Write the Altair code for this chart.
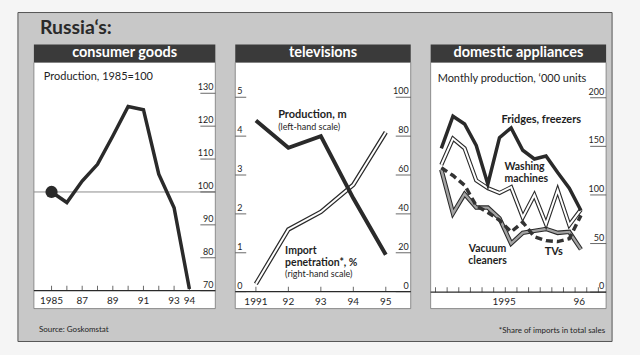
import altair as alt
import pandas as pd

# ---------------- data ----------------
cg_years = [1985, 1986, 1987, 1988, 1989, 1990, 1991, 1992, 1993, 1994]
cg_index = [100, 96.8, 103.3, 108.4, 117, 126, 125, 105.4, 95.2, 70.5]
cg_ylabels = [70, 80, 90, 100, 110, 120, 130]
cg_xlabel_years = [1985, 1987, 1989, 1991, 1993, 1994]
cg_xlabels = ["1985", "87", "89", "91", "93", "94"]

tv_years = [1991, 1992, 1993, 1994, 1995]
tv_production = [4.4, 3.7, 4.0, 2.4, 0.95]
tv_import = [4, 32, 41, 55, 82]
tv_left_labels = [0, 1, 2, 3, 4, 5]
tv_right_labels = [0, 20, 40, 60, 80, 100]
tv_xlabels = ["1991", "92", "93", "94", "95"]

da_month = list(range(13))
da_fridges = [148, 181, 173, 151, 111, 159, 169, 146, 137, 140, 123, 107, 84]
da_washing = [131, 158, 148, 115, 107, 102, 108, 77, 100, 70, 105, 69, 85]
da_vacuum = [126, 81, 101, 87, 87, 76, 50, 61, 63, 65, 61, 62, 44]
da_tvs = [128, 120, 110, 89, 82, 74, 62, 72, 57, 53, 52, 55, 79]
da_ylabels = [0, 50, 100, 150, 200]
da_ticks = [k - 0.5 for k in range(15)]
da_xlabel_pos = [5.4, 11.85]
da_xlabels = ["1995", "96"]

# ---------------- style ----------------
FONT = "Lato"
INK = "#1e1e1e"
LINE = "#2a2a2a"
HEAD = "#3a3a3a"
GRAY = "#c8c8c8"
W1, W2, W3, H = 182, 176, 176, 247

one = pd.DataFrame({"d": [0]})


def X(f, s):
    return alt.X(f, scale=s, axis=None)


def Y(f, s):
    return alt.Y(f, scale=s, axis=None)


def txt(text, x, y, size=11, weight="normal", align="left", color=INK, baseline="middle"):
    return alt.Chart(one).mark_text(
        text=text, fontSize=size, fontWeight=weight, align=align,
        baseline=baseline, font=FONT, color=color
    ).encode(x=alt.value(x), y=alt.value(y))


def rect(x, x2, y, y2, fill, stroke="transparent", sw=0):
    return alt.Chart(one).mark_rect(fill=fill, stroke=stroke, strokeWidth=sw).encode(
        x=alt.value(x), x2=alt.value(x2), y=alt.value(y), y2=alt.value(y2))


def header(text, w):
    return [rect(0, w, -18, 0, HEAD), txt(text, w / 2, -9, 14.5, "bold", "center", "white")]


def ylabels(vals, ys, x1, x2, xt, align):
    df = pd.DataFrame({"v": vals})
    r = alt.Chart(df).mark_rule(color="#444", strokeWidth=0.8).encode(
        y=Y("v:Q", ys), x=alt.value(x1), x2=alt.value(x2))
    t = alt.Chart(df).mark_text(fontSize=9, font=FONT, color=INK, align=align,
                                baseline="bottom", dy=-1).encode(
        y=Y("v:Q", ys), x=alt.value(xt), text="v:Q")
    return [r, t]


def xaxis(base, w, tick_pos, lab_pos, labs, xs, ys):
    b = alt.Chart(pd.DataFrame({"v": [base]})).mark_rule(color=LINE, strokeWidth=1.2).encode(
        y=Y("v:Q", ys), x=alt.value(0), x2=alt.value(w))
    t = alt.Chart(pd.DataFrame({"p": tick_pos, "b": [base] * len(tick_pos)})).mark_tick(
        orient="vertical", size=5, thickness=1, yOffset=-2.5, color=LINE).encode(
        x=X("p:Q", xs), y=Y("b:Q", ys))
    l = alt.Chart(pd.DataFrame({"p": lab_pos, "s": labs, "b": [base] * len(lab_pos)})).mark_text(
        fontSize=10, font=FONT, color=INK, baseline="middle", dy=10).encode(
        x=X("p:Q", xs), y=Y("b:Q", ys), text="s:N")
    return [b, t, l]


# ---------------- panel 1: consumer goods ----------------
xs1 = alt.Scale(domain=[1983.848, 1995.692], nice=False, zero=False)
ys1 = alt.Scale(domain=[64.545, 139.394], nice=False, zero=False)
cg = pd.DataFrame({"year": cg_years, "v": cg_index})

p1_layers = [
    rect(-16, 580, -50, 280, GRAY, "#555", 1),
    rect(0, W1, 0, H, "white", "#777", 0.8),
    *header("consumer goods", W1),
    txt("Russia\u2018s:", 6, -28, 19.5, "bold", "left", "#2a2a2a", "alphabetic"),
    txt("Production, 1985=100", 10, 15, 11),
    alt.Chart(pd.DataFrame({"v": [100]})).mark_rule(color="#8c8c8c", strokeWidth=1).encode(
        y=Y("v:Q", ys1), x=alt.value(0), x2=alt.value(W1)),
    *ylabels(cg_ylabels, ys1, 167, W1, 180, "right"),
    *xaxis(70, W1, cg_years, cg_xlabel_years, cg_xlabels, xs1, ys1),
    alt.Chart(cg).mark_line(color=LINE, strokeWidth=3.5).encode(
        x=X("year:Q", xs1), y=Y("v:Q", ys1)),
    alt.Chart(cg.iloc[:1]).mark_circle(color=LINE, size=150, opacity=1).encode(
        x=X("year:Q", xs1), y=Y("v:Q", ys1)),
    txt("Source: Goskomstat", 5, 268, 8),
]
p1 = alt.layer(*p1_layers).properties(width=W1, height=H)

# ---------------- panel 2: televisions ----------------
xs2 = alt.Scale(domain=[1990.3645, 1995.7675], nice=False, zero=False)
ys2L = alt.Scale(domain=[-0.4359, 5.8974], nice=False, zero=False)
ys2R = alt.Scale(domain=[-8.718, 117.949], nice=False, zero=False)
tv = pd.DataFrame({"year": tv_years, "prod": tv_production, "imp": tv_import})

p2_layers = [
    rect(0, W2, 0, H, "white", "#777", 0.8),
    *header("televisions", W2),
    *ylabels(tv_left_labels, ys2L, 0, 11, 2, "left"),
    *ylabels(tv_right_labels, ys2R, 161, W2, 174, "right"),
    *xaxis(0, W2, tv_years, tv_years, tv_xlabels, xs2, ys2L),
    alt.Chart(tv).mark_line(color=LINE, strokeWidth=4.5).encode(
        x=X("year:Q", xs2), y=Y("imp:Q", ys2R)),
    alt.Chart(tv).mark_line(color="white", strokeWidth=2).encode(
        x=X("year:Q", xs2), y=Y("imp:Q", ys2R)),
    alt.Chart(tv).mark_line(color=LINE, strokeWidth=4).encode(
        x=X("year:Q", xs2), y=Y("prod:Q", ys2L)),
    txt("Production, m", 43, 53, 11, "bold"),
    txt("(left-hand scale)", 43, 65, 9),
    txt("Import", 50, 189, 10.5, "bold"),
    txt("penetration*, %", 50, 201, 10.5, "bold"),
    txt("(right-hand scale)", 50, 212, 9),
]
p2 = alt.layer(*p2_layers).properties(width=W2, height=H).resolve_scale(y="independent")

# ---------------- panel 3: domestic appliances ----------------
xs3 = alt.Scale(domain=[-0.917, 14.165], nice=False, zero=False)
ys3 = alt.Scale(domain=[-16.923, 236.41], nice=False, zero=False)
da = pd.DataFrame({"m": da_month, "fr": da_fridges, "wa": da_washing,
                   "va": da_vacuum, "tv": da_tvs})


def dline(field, **kw):
    return alt.Chart(da).mark_line(**kw).encode(x=X("m:Q", xs3), y=Y(field + ":Q", ys3))


p3_layers = [
    rect(0, W3, 0, H, "white", "#777", 0.8),
    *header("domestic appliances", W3),
    txt("Monthly production, \u2018000 units", 7, 17, 11),
    *ylabels(da_ylabels, ys3, 160, W3, 174, "right"),
    *xaxis(0, W3, da_ticks, da_xlabel_pos, da_xlabels, xs3, ys3),
    dline("va", color=LINE, strokeWidth=4.5),
    dline("va", color="#a3a3a3", strokeWidth=2.4),
    dline("wa", color=LINE, strokeWidth=4.2),
    dline("wa", color="white", strokeWidth=2),
    dline("tv", color="#333", strokeWidth=3.5, strokeDash=[7, 4]),
    dline("fr", color=LINE, strokeWidth=3.5),
    txt("Fridges, freezers", 71, 58, 11, "bold"),
    txt("Washing", 74, 105, 10.5, "bold"),
    txt("machines", 74, 117, 10.5, "bold"),
    txt("Vacuum", 57, 187.5, 10.5, "bold", "center"),
    txt("cleaners", 57, 199.5, 10.5, "bold", "center"),
    txt("TVs", 123.5, 190, 11, "bold", "center"),
    txt("*Share of imports in total sales", 175, 269, 8, "normal", "right"),
]
p3 = alt.layer(*p3_layers).properties(width=W3, height=H)

chart = alt.hconcat(p1, p2, p3, spacing=20, bounds="flush").properties(
    padding={"left": 17, "top": 11, "right": 27, "bottom": 14}
).configure(background="#f5f5f5", font=FONT).configure_view(strokeWidth=0)

chart.save("out.html", embed_options={"renderer": "svg", "actions": False})
